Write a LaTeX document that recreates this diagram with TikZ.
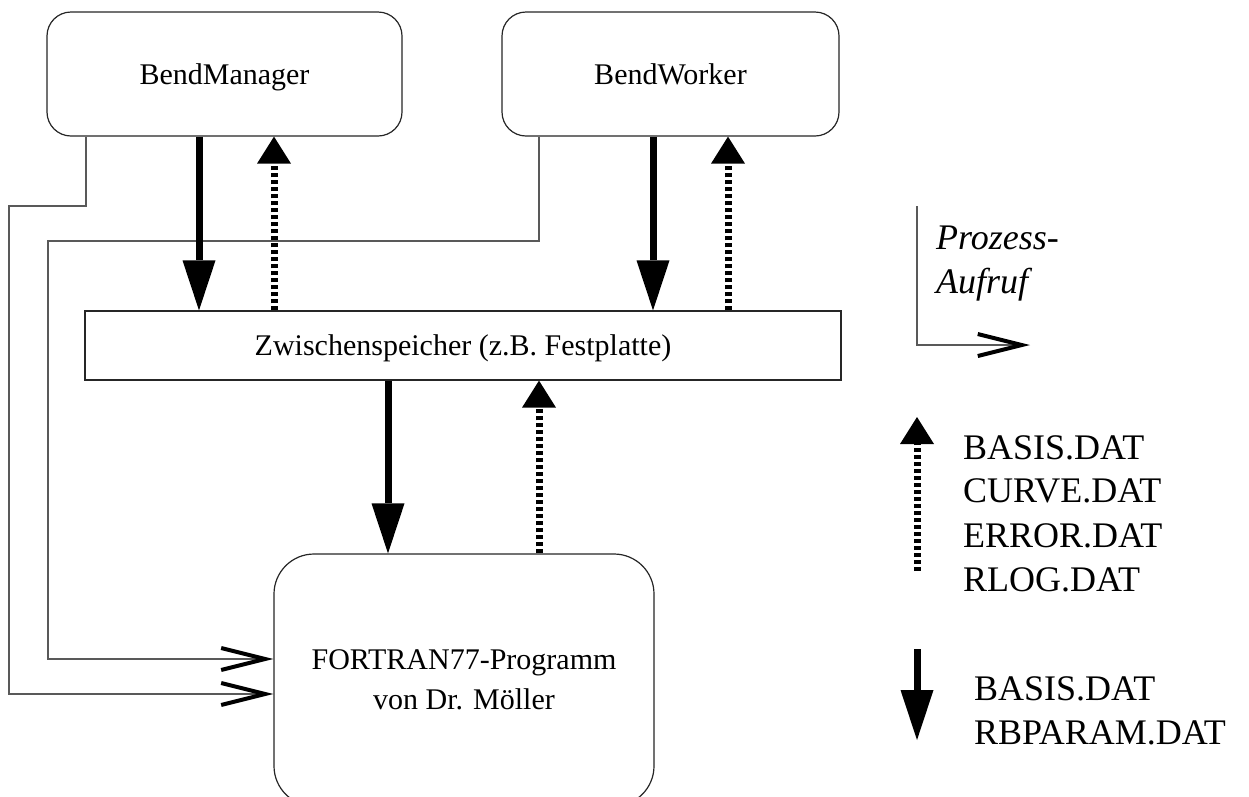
\documentclass[tikz,border=0pt]{standalone}
\usepackage{fontspec}
\setmainfont{Liberation Serif}
\usetikzlibrary{arrows.meta}
\begin{document}
\begin{tikzpicture}[x=1pt,y=-1pt,
  box/.style={draw=black!85, line width=1.2pt, fill=white, inner sep=0pt,
    font=\fontsize{30}{40}\selectfont},
  oneline/.style={text height=26.7pt, text depth=6.5pt},
  flow/.style={line width=7pt, -{Triangle[length=50pt,width=33pt,line width=0pt]}},
  flowback/.style={line width=7pt, dash pattern=on 4pt off 3pt,
    -{Triangle[length=27pt,width=34pt,line width=0pt]}},
  call/.style={draw=black!65, line width=1.1pt,
    -{Straight Barb[length=44pt,width=22pt,line width=4pt,color=black]}},
  legend/.style={anchor=base west, inner sep=0pt, font=\fontsize{36}{44}\selectfont},
]
\useasboundingbox (0,0) rectangle (1249,796);
\clip (0,0) rectangle (1249,796);

% processes and the shared storage
\node[box, oneline, rounded corners=24pt, minimum width=355pt, minimum height=124pt]
  (bm) at (224.5,74) {BendManager};
\node[box, oneline, rounded corners=24pt, minimum width=337pt, minimum height=124pt]
  (bw) at (670.5,74) {BendWorker};
\node[box, oneline, minimum width=756pt, minimum height=69pt]
  (zw) at (463,345.5) {Zwischenspeicher (z.B. Festplatte)};
\node[box, align=center, rounded corners=40pt, minimum width=380pt, minimum height=252pt]
  (fo) at (464,680) {FORTRAN77-Programm\\von Dr. Möller};

% columns of the data arrows
\coordinate (c1) at (199,0);
\coordinate (c2) at (274,0);
\coordinate (c3) at (653,0);
\coordinate (c4) at (728,0);
\coordinate (c5) at (388,0);
\coordinate (c6) at (539,0);

% process calls into the FORTRAN program
\coordinate (m1) at (86,206);
\coordinate (m2) at (9,206);
\coordinate (m3) at (9,694);
\coordinate (w1) at (539,241);
\coordinate (w2) at (48,241);
\coordinate (w3) at (48,659);
\draw[call] (bm.south -| m1) -- (m1) -- (m2) -- (m3) -- (fo.west |- m3);
\draw[call] (bw.south -| w1) -- (w1) -- (w2) -- (w3) -- (fo.west |- w3);

% data written and read
\draw[flow] (bm.south -| c1) -- (zw.north -| c1);
\draw[flowback] (zw.north -| c2) -- (bm.south -| c2);
\draw[flow] (bw.south -| c3) -- (zw.north -| c3);
\draw[flowback] (zw.north -| c4) -- (bw.south -| c4);
\draw[flow] (zw.south -| c5) -- (fo.north -| c5);
\draw[flowback] (fo.north -| c6) -- (zw.south -| c6);

% legend
\coordinate (p0) at (917,206);
\coordinate (p1) at (1030,345);
\draw[call] (p0) |- (p1);
\node[legend, font=\fontsize{36}{44}\selectfont\itshape] (lp1) at (936,249) {Prozess-};
\node[legend, font=\fontsize{36}{44}\selectfont\itshape] (lp2) at (936,293) {Aufruf};

\coordinate (u0) at (917,571);
\coordinate (u1) at (917,417);
\draw[flowback] (u0) -- (u1);
\node[legend] (lu1) at (963,459) {BASIS.DAT};
\node[legend] (lu2) at (963,502) {CURVE.DAT};
\node[legend] (lu3) at (963,547) {ERROR.DAT};
\node[legend] (lu4) at (963,591) {RLOG.DAT};

\coordinate (d0) at (917,649);
\coordinate (d1) at (917,740);
\draw[flow] (d0) -- (d1);
\node[legend] (ld1) at (974,700) {BASIS.DAT};
\node[legend] (ld2) at (974,744) {RBPARAM.DAT};
\end{tikzpicture}
\end{document}
